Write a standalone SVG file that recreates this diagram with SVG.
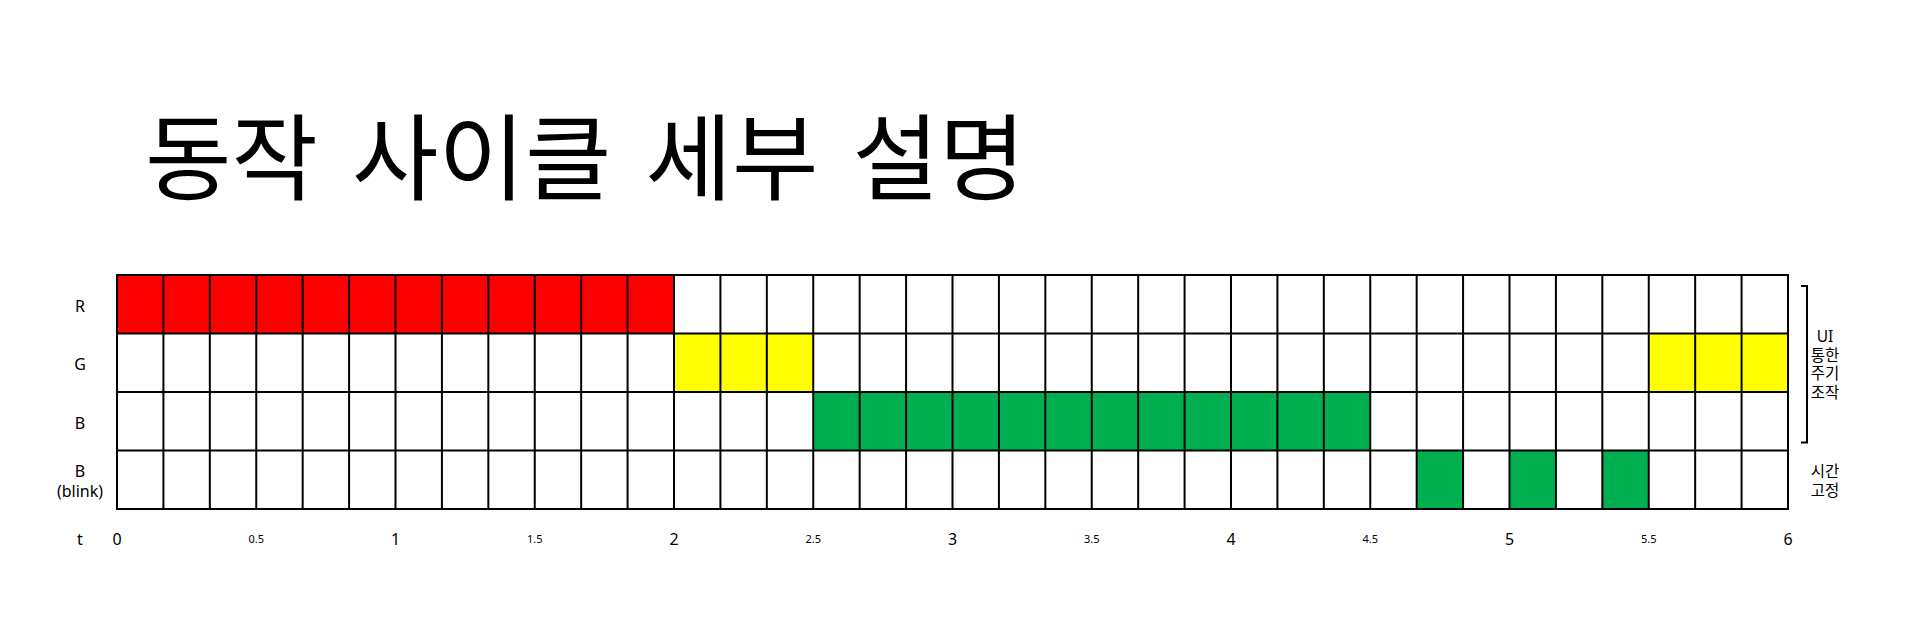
<svg xmlns="http://www.w3.org/2000/svg" width="1920" height="639" viewBox="0 0 1920 639">
<style>
.t{font-family:"Noto Sans","Noto Sans CJK KR",sans-serif;fill:#000;text-anchor:middle}
.lbl{font-size:16px}
.side{font-size:15.5px}
.sm{font-size:11px}
.title{font-family:"Noto Sans CJK KR","Noto Sans",sans-serif;font-size:94px;word-spacing:13px;fill:#000}
.red{fill:#FF0000}
.yel{fill:#FFFF00}
.grn{fill:#00B050}
.grid{fill:none;stroke:#000;stroke-width:2}
</style>
<rect width="1920" height="639" fill="#fff"/>
<g id="title">
<text class="title" x="145" y="193">동작 사이클 세부 설명</text>
</g>
<g id="row-labels">
<text class="t lbl" x="80" y="312">R</text>
<text class="t lbl" x="80" y="370">G</text>
<text class="t lbl" x="80" y="429">B</text>
<text class="t lbl" x="80" y="477">B</text>
<text class="t lbl" x="80" y="497">(blink)</text>
</g>
<g id="cells">
<rect class="red" x="117" y="275" width="557" height="58.5"/>
<rect class="yel" x="674" y="333.5" width="139.25" height="58.5"/>
<rect class="yel" x="1648.75" y="333.5" width="139.25" height="58.5"/>
<rect class="grn" x="813.25" y="392" width="557" height="58.5"/>
<rect class="grn" x="1416.67" y="450.5" width="46.42" height="58.5"/>
<rect class="grn" x="1509.5" y="450.5" width="46.42" height="58.5"/>
<rect class="grn" x="1602.33" y="450.5" width="46.42" height="58.5"/>
</g>
<g id="grid">
<path class="grid" d="M117 333.5H1788M117 392H1788M117 450.5H1788
M163.42 275V509M209.83 275V509M256.25 275V509M302.67 275V509M349.08 275V509M395.5 275V509
M441.92 275V509M488.33 275V509M534.75 275V509M581.17 275V509M627.58 275V509M674 275V509
M720.42 275V509M766.83 275V509M813.25 275V509M859.67 275V509M906.08 275V509M952.5 275V509
M998.92 275V509M1045.33 275V509M1091.75 275V509M1138.17 275V509M1184.58 275V509M1231 275V509
M1277.42 275V509M1323.83 275V509M1370.25 275V509M1416.67 275V509M1463.08 275V509M1509.5 275V509
M1555.92 275V509M1602.33 275V509M1648.75 275V509M1695.17 275V509M1741.58 275V509"/>
<rect class="grid" x="117" y="275" width="1671" height="234" stroke-width="2.5"/>
</g>
<g id="time-axis">
<text class="t lbl" x="80" y="545">t</text>
<text class="t lbl" x="117" y="545">0</text>
<text class="t sm" x="256.25" y="543">0.5</text>
<text class="t lbl" x="395.5" y="545">1</text>
<text class="t sm" x="534.75" y="543">1.5</text>
<text class="t lbl" x="674" y="545">2</text>
<text class="t sm" x="813.25" y="543">2.5</text>
<text class="t lbl" x="952.5" y="545">3</text>
<text class="t sm" x="1091.75" y="543">3.5</text>
<text class="t lbl" x="1231" y="545">4</text>
<text class="t sm" x="1370.25" y="543">4.5</text>
<text class="t lbl" x="1509.5" y="545">5</text>
<text class="t sm" x="1648.75" y="543">5.5</text>
<text class="t lbl" x="1788" y="545">6</text>
</g>
<g id="bracket">
<path d="M1801 286H1807V442.5H1801" fill="none" stroke="#000" stroke-width="2"/>
</g>
<g id="side-labels">
<text class="t side" x="1825" y="342">UI</text>
<text class="t side" x="1825" y="360.5">통한</text>
<text class="t side" x="1825" y="379">주기</text>
<text class="t side" x="1825" y="397.5">조작</text>
<text class="t side" x="1825" y="477">시간</text>
<text class="t side" x="1825" y="495.5">고정</text>
</g>
</svg>
